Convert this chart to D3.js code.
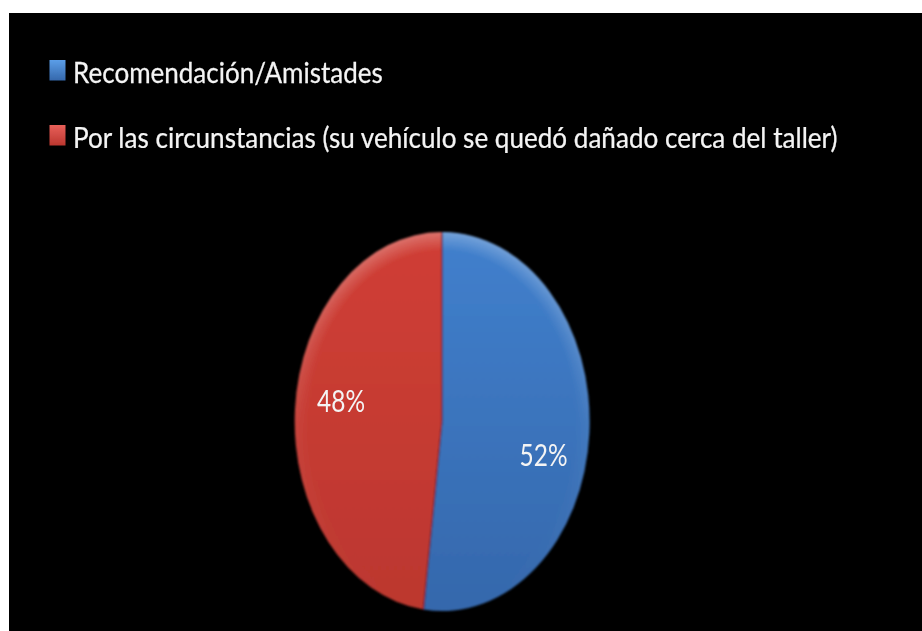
<!DOCTYPE html>
<html><head><meta charset="utf-8">
<style>html,body{margin:0;padding:0;background:#fff;overflow:hidden}svg{display:block}</style>
<script src="https://cdn.jsdelivr.net/npm/d3@7"></script></head>
<body><svg id="c" width="922" height="631"></svg>
<script>
const categories = ["Recomendación/Amistades", "Por las circunstancias (su vehículo se quedó dañado cerca del taller)"];
const values = [52, 48];
const labels = ["52%", "48%"];
const colorsMain = ["#4180cd", "#d03f36"];
const colorsLight = ["#5b9ee8", "#e8605a"];
const colorsDark = ["#3568ac", "#bc372f"];

const W = 922, H = 631;
const svg = d3.select("#c");
const defs = svg.append("defs");
const blur = (id, s) => defs.append("filter").attr("id",id).attr("filterUnits","userSpaceOnUse")
  .attr("x",0).attr("y",0).attr("width",W).attr("height",H)
  .append("feGaussianBlur").attr("stdDeviation",s);
blur("soft",0.6); blur("softEdge",1.1);

categories.forEach((c,i)=>{
  const g = defs.append("linearGradient").attr("id","lin"+i).attr("x1",0).attr("y1",0).attr("x2",0).attr("y2",1);
  g.append("stop").attr("offset","0%").attr("stop-color",colorsMain[i]);
  g.append("stop").attr("offset","100%").attr("stop-color",colorsDark[i]);
  const k = defs.append("linearGradient").attr("id","key"+i).attr("x1",0).attr("y1",0).attr("x2",0).attr("y2",1);
  k.append("stop").attr("offset","0%").attr("stop-color",colorsLight[i]);
  k.append("stop").attr("offset","100%").attr("stop-color",colorsDark[i]);
});
const bevel = defs.append("radialGradient").attr("id","bevel").attr("gradientUnits","userSpaceOnUse")
  .attr("cx",0).attr("cy",0).attr("r",1);
bevel.append("stop").attr("offset","90%").attr("stop-color","#fff").attr("stop-opacity",0);
bevel.append("stop").attr("offset","100%").attr("stop-color","#fff").attr("stop-opacity",0.28);
const fade = defs.append("linearGradient").attr("id","fade").attr("x1",0).attr("y1",0).attr("x2",0).attr("y2",1);
fade.append("stop").attr("offset","0%").attr("stop-color","#fff");
fade.append("stop").attr("offset","50%").attr("stop-color","#333");
fade.append("stop").attr("offset","100%").attr("stop-color","#000");
defs.append("mask").attr("id","fadeMask").attr("maskUnits","userSpaceOnUse")
  .attr("x",-1.2).attr("y",-1.2).attr("width",2.4).attr("height",2.4)
  .attr("maskContentUnits","userSpaceOnUse")
  .append("rect").attr("x",-1).attr("y",-1).attr("width",2).attr("height",2).attr("fill","url(#fade)");

// background panel
svg.append("rect").attr("x",9).attr("y",13).attr("width",W-9).attr("height",H-13).attr("fill","#000");

// pie: unit circle, stretched to the reference's ellipse
const cx = 442, cy = 421.5, rx = 147.5, ry = 189.5;
const arcs = d3.pie().sort(null).value(d=>d)(values);
const arc = d3.arc().innerRadius(0).outerRadius(1);
const outer = svg.append("g").attr("filter","url(#softEdge)");
const gp = outer.append("g").attr("transform",`translate(${cx},${cy}) scale(${rx},${ry})`);
gp.selectAll("path.s").data(arcs).join("path").attr("class","s").attr("d",arc)
  .attr("fill",(d,i)=>`url(#lin${i})`);
gp.append("g").attr("mask","url(#fadeMask)")
  .selectAll("path.b").data(arcs).join("path").attr("class","b").attr("d",arc).attr("fill","url(#bevel)");

// boundary line between slices
[arcs[0].startAngle, arcs[0].endAngle].forEach(a=>{
  outer.append("line")
    .attr("x1",cx).attr("y1",cy)
    .attr("x2",cx+rx*Math.sin(a)).attr("y2",cy-ry*Math.cos(a))
    .attr("stroke","#4a1a2c").attr("stroke-width",1.2);
});

// condensed text: scale the glyphs horizontally to the reference's width
function condensed(sel, xs, ys, widths, anchorMiddle, sw){
  sel.attr("fill","#f4f4f4").attr("stroke","#f4f4f4").attr("stroke-width",sw)
    .attr("text-anchor",anchorMiddle?"middle":"start")
    .each(function(d,i){
      const n = this.getComputedTextLength();
      d3.select(this).attr("transform",`translate(${xs[i]},${ys[i]}) scale(${widths[i]/n},1)`);
    });
}

// everything soft sits in one untransformed group, so the blur region stays page-wide
const soft = svg.append("g").attr("filter","url(#soft)");

// data labels
soft.selectAll("text.v").data(labels).join("text").attr("class","v")
  .attr("font-family","Lato").attr("font-size",30).text(d=>d)
  .call(condensed,[543.5,341],[466,412],[48,48],true,0);

// legend
soft.selectAll("rect.k").data(categories).join("rect").attr("class","k")
  .attr("x",49.5).attr("y",(d,i)=>[60,125][i]).attr("width",16).attr("height",20.5)
  .attr("fill",(d,i)=>`url(#key${i})`);
soft.selectAll("text.l").data(categories).join("text").attr("class","l")
  .attr("font-family","Lato").attr("font-size",28).text(d=>d)
  .call(condensed,[73,73],[83,148],[310,765],false,0.25);
</script></body></html>
